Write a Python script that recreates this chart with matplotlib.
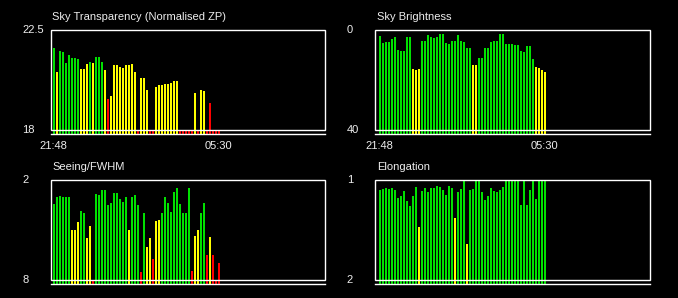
import matplotlib
matplotlib.use("Agg")
import matplotlib.pyplot as plt
import matplotlib.transforms as mtransforms
from matplotlib.patches import Rectangle
import numpy as np

plt.rcParams['font.family'] = ['Liberation Sans', 'DejaVu Sans']

# first and last exposure times
time_labels = ["21:48", "05:30"]

transparency = [21.69, 20.61, 21.56, 21.51, 21.02, 21.38, 21.24, 21.24, 21.20, 20.75,
                20.75, 20.97, 21.06, 21.02, 21.29, 21.29, 21.06, 20.70, 19.40, 19.53,
                20.93, 20.93, 20.84, 20.79, 20.93, 20.93, 20.97, 20.61, 18.0, 20.34,
                20.34, 19.80, 18.0, 18.0, 19.94, 20.03, 20.03, 20.07, 20.07, 20.12,
                20.20, 20.20, 18.0, 18.0, 18.0, 18.0, 18.0, 19.67, 18.0, 19.80,
                19.76, 18.0, 19.22, 18.0, 18.0, 18.0]
transparency_flag = "gyggggggg" + "yyygyggg" + "yr" + "yyyyyyyyy" + "ryyyrr" + "yyyyyyyy" + "rrrrryryyrrrrr"

brightness = [2.4, 5.2, 4.8, 4.8, 3.6, 2.8, 8.0, 8.4, 8.4, 2.8,
              2.8, 15.6, 16.0, 15.6, 4.4, 4.4, 2.0, 2.8, 3.2, 2.8,
              1.6, 1.6, 5.2, 5.6, 4.4, 4.4, 2.0, 4.4, 4.8, 7.2,
              7.2, 14.0, 14.0, 11.2, 11.2, 7.2, 7.2, 4.8, 4.4, 4.4,
              1.6, 1.6, 5.6, 5.6, 5.6, 6.0, 6.0, 8.4, 8.8, 6.4,
              6.4, 11.6, 14.8, 15.2, 16.0, 16.8]
brightness_flag = "g" * 11 + "y" * 3 + "g" * 17 + "y" * 2 + "g" * 19 + "y" * 4

seeing = [3.42, 3.00, 2.94, 3.00, 3.00, 3.00, 4.98, 4.98, 4.50, 3.84,
          3.96, 5.46, 4.74, 8.0, 2.82, 2.88, 2.58, 2.58, 3.48, 3.36,
          2.76, 2.76, 3.12, 3.30, 3.00, 4.98, 3.00, 2.88, 3.48, 7.50,
          3.96, 6.00, 5.46, 6.72, 4.44, 4.38, 3.96, 3.00, 3.36, 3.90,
          2.70, 2.46, 3.42, 3.96, 3.96, 2.46, 7.44, 5.34, 4.98, 3.96,
          3.36, 6.48, 5.40, 6.48, 8.0, 6.96]
seeing_flag = ("g" * 6 + "y" * 3 + "g" * 2 + "y" * 2 + "r" + "g" * 11 + "y" + "g" * 3 + "r" + "g"
               + "yy" + "r" + "yy" + "g" * 10 + "r" + "yy" + "gg" + "r" + "y" + "rrr")

elongation = [1.10, 1.09, 1.08, 1.09, 1.08, 1.10, 1.18, 1.16, 1.11, 1.21,
              1.26, 1.16, 1.07, 1.47, 1.11, 1.08, 1.12, 1.08, 1.08, 1.06,
              1.07, 1.10, 1.15, 1.06, 1.08, 1.38, 1.12, 1.09, 1.00, 1.64,
              1.10, 1.09, 1.00, 1.00, 1.12, 1.20, 1.16, 1.08, 1.11, 1.12,
              1.10, 1.07, 1.00, 1.00, 1.00, 1.00, 1.00, 1.25, 1.00, 1.25,
              1.10, 1.00, 1.19, 1.00, 1.00, 1.00]
elongation_flag = "".join("y" if i in (13, 25, 29) else "g" for i in range(56))

flag_colors = {"g": "#00e000", "y": "#ffff00", "r": "#ff0000"}
fg = "#eeeeee"

fig = plt.figure(figsize=(6.78, 2.98), dpi=100, facecolor="black")

W = 274.3 / 678
H = 104.2 / 298
panels = [
    # title, values, flags, bottom of box, top of box, tick labels, axes rect, xlim, show times
    ("Sky Transparency (Normalised ZP)", transparency, transparency_flag, 18, 22.5, ["22.5", "18"],
     [50.7 / 678, 1 - 134.3 / 298, W, H], (-1.0, 90.4), True),
    ("Sky Brightness", brightness, brightness_flag, 40, 0, ["0", "40"],
     [375.3 / 678, 1 - 134.3 / 298, W, H], (-1.45, 89.95), True),
    ("Seeing/FWHM", seeing, seeing_flag, 8, 2, ["2", "8"],
     [50.7 / 678, 1 - 284.3 / 298, W, H], (-1.0, 90.4), False),
    ("Elongation", elongation, elongation_flag, 2, 1, ["1", "2"],
     [375.3 / 678, 1 - 284.3 / 298, W, H], (-1.45, 89.95), False),
]

for title, vals, flags, lo, hi, ylabels, rect, xlim, show_times in panels:
    ax = fig.add_axes(rect)
    ax.set_facecolor("black")
    base = lo - 0.042 * (hi - lo)
    x = np.arange(len(vals))
    vals = np.array(vals)
    ax.bar(x, vals - base, bottom=base, width=0.66,
           color=[flag_colors[f] for f in flags], zorder=2)
    ax.set_ylim(base, hi)
    ax.set_xlim(*xlim)

    # white frame around the plotting range, drawn over the bars
    tr = mtransforms.blended_transform_factory(ax.transAxes, ax.transData)
    ax.add_patch(Rectangle((0, lo), 1, hi - lo, transform=tr, fill=False,
                           edgecolor="white", linewidth=1.0, zorder=5, clip_on=False))
    for s in ["top", "left", "right"]:
        ax.spines[s].set_visible(False)
    ax.spines["bottom"].set_color("white")
    ax.spines["bottom"].set_linewidth(1.0)
    ax.spines["bottom"].set_zorder(5)

    ax.set_yticks([])
    for val, lab in zip([hi, lo], ylabels):
        ax.text(-0.104, val, lab, transform=tr, ha="left", va="center",
                color=fg, fontsize=8)

    if show_times:
        ax.set_xticks([x[0], x[-1]])
        ax.set_xticklabels(time_labels, color=fg, fontsize=8)
        ax.tick_params(axis="x", length=0, pad=4.5)
    else:
        ax.set_xticks([])

    ax.set_title(title, loc="left", color=fg, fontsize=8, pad=7.5, x=0.005)

fig.savefig("out.png", dpi=100, facecolor="black")
